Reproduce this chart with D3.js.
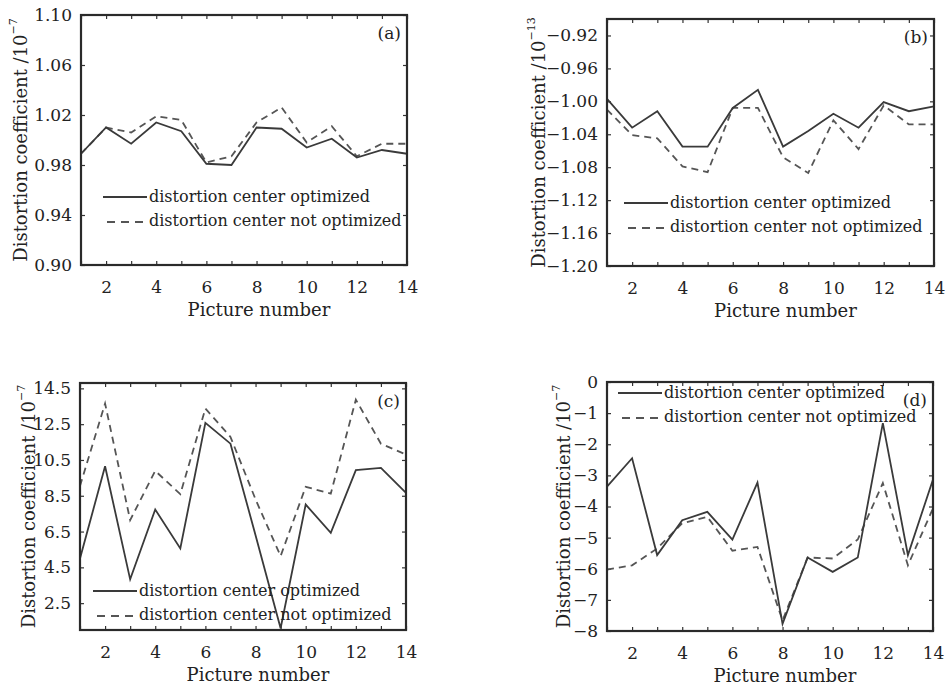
<!DOCTYPE html>
<html>
<head>
<meta charset="utf-8">
<script src="https://cdn.jsdelivr.net/npm/d3@7"></script>
<style>
  body { margin: 0; background: #fff; }
  svg text { font-family: "DejaVu Serif", "Liberation Serif", serif; }
  .tick text { font-size: 17px; fill: #222; }
  .tick line { stroke: #333; stroke-width: 1.2; }
  .domain { display: none; }
</style>
</head>
<body>
<div id="chart"></div>
<script>
// DATA
const pictureNumbers = [1, 2, 3, 4, 5, 6, 7, 8, 9, 10, 11, 12, 13, 14];
const xTickLabels = [2, 4, 6, 8, 10, 12, 14];
const seriesNames = ['distortion center optimized', 'distortion center not optimized'];

// (a)
const aOptimized = [0.989, 1.010, 0.997, 1.014, 1.007, 0.981, 0.980, 1.010, 1.009, 0.994, 1.001, 0.986, 0.992, 0.989];
const aNotOptimized = [0.989, 1.010, 1.006, 1.019, 1.016, 0.982, 0.987, 1.014, 1.026, 0.998, 1.011, 0.987, 0.997, 0.997];
const aTicks = [0.90, 0.94, 0.98, 1.02, 1.06, 1.10];
const aDomain = [0.90, 1.10];

// (b)
const bOptimized = [-0.997, -1.032, -1.012, -1.055, -1.055, -1.008, -0.986, -1.055, -1.036, -1.015, -1.032, -1.001, -1.012, -1.006];
const bNotOptimized = [-1.010, -1.041, -1.045, -1.079, -1.086, -1.008, -1.008, -1.068, -1.087, -1.023, -1.058, -1.005, -1.028, -1.028];
const bTicks = [-1.20, -1.16, -1.12, -1.08, -1.04, -1.00, -0.96, -0.92];
const bDomain = [-1.20, -0.90];

// (c)
const cOptimized = [5.0, 10.15, 3.83, 7.73, 5.56, 12.57, 11.41, 6.3, 1.1, 8.01, 6.43, 9.93, 10.06, 8.66];
const cNotOptimized = [9.05, 13.65, 7.14, 9.89, 8.59, 13.37, 11.79, 8.3, 5.13, 9.0, 8.62, 13.87, 11.41, 10.8];
const cTicks = [2.5, 4.5, 6.5, 8.5, 10.5, 12.5, 14.5];
const cDomain = [1, 14.8];

// (d)
const dOptimized = [-3.36, -2.45, -5.56, -4.44, -4.17, -5.06, -3.23, -7.77, -5.64, -6.10, -5.64, -1.32, -5.56, -3.13];
const dNotOptimized = [-6.03, -5.89, -5.35, -4.54, -4.33, -5.42, -5.30, -7.66, -5.64, -5.67, -5.06, -3.25, -5.89, -4.06];
const dTicks = [-8, -7, -6, -5, -4, -3, -2, -1, 0];
const dDomain = [-8, 0];

const serif = '"DejaVu Serif", "Liberation Serif", serif';

// panels : layout only
const panels = [
  {tag: '(a)', opt: aOptimized, notOpt: aNotOptimized, ticks: aTicks, domain: aDomain, fmt: '.2f', exp: '−7',
   left: 81, right: 407, top: 15, bottom: 265, ylabX: 27, legX: 103, legY: 197},
  {tag: '(b)', opt: bOptimized, notOpt: bNotOptimized, ticks: bTicks, domain: bDomain, fmt: '.2f', exp: '−13',
   left: 607, right: 934, top: 19, bottom: 266, ylabX: 545, legX: 624, legY: 203},
  {tag: '(c)', opt: cOptimized, notOpt: cNotOptimized, ticks: cTicks, domain: cDomain, fmt: '.1f', exp: '−7',
   left: 80, right: 406, top: 383, bottom: 630, ylabX: 35, legX: 93, legY: 591},
  {tag: '(d)', opt: dOptimized, notOpt: dNotOptimized, ticks: dTicks, domain: dDomain, fmt: 'd', exp: '−7',
   left: 607, right: 933, top: 382, bottom: 631, ylabX: 570, legX: 618, legY: 393}
];

const svg = d3.select('#chart').append('svg').attr('width', 952).attr('height', 687);

panels.forEach(function(p) {
  const g = svg.append('g');
  const x = d3.scaleLinear().domain([1, 14]).range([p.left, p.right]);
  const y = d3.scaleLinear().domain(p.domain).range([p.bottom, p.top]);

  // axes, ticks pointing inward
  g.append('g').attr('transform', 'translate(0,' + p.bottom + ')')
    .call(d3.axisBottom(x).tickValues(pictureNumbers).tickSize(-4).tickPadding(16)
      .tickFormat(d => xTickLabels.includes(d) ? d : ''));
  g.append('g').attr('transform', 'translate(0,' + p.top + ')')
    .call(d3.axisTop(x).tickValues(pictureNumbers).tickSize(-4).tickFormat(''));
  g.append('g').attr('transform', 'translate(' + p.left + ',0)')
    .call(d3.axisLeft(y).tickValues(p.ticks).tickSize(-4).tickPadding(9).tickFormat(d3.format(p.fmt)));
  g.append('g').attr('transform', 'translate(' + p.right + ',0)')
    .call(d3.axisRight(y).tickValues(p.ticks).tickSize(-4).tickFormat(''));
  g.selectAll('.tick text').attr('font-family', serif);

  // lines
  const line = d3.line().x((d, i) => x(pictureNumbers[i])).y(d => y(d));
  g.append('path').datum(p.notOpt).attr('d', line)
    .attr('fill', 'none').attr('stroke', '#555').attr('stroke-width', 1.8).attr('stroke-dasharray', '7,5');
  g.append('path').datum(p.opt).attr('d', line)
    .attr('fill', 'none').attr('stroke', '#3a3a3a').attr('stroke-width', 1.8);

  // box
  g.append('rect').attr('x', p.left).attr('y', p.top)
    .attr('width', p.right - p.left).attr('height', p.bottom - p.top)
    .attr('fill', 'none').attr('stroke', '#2a2a2a').attr('stroke-width', 2.2);

  // tag
  g.append('text').attr('x', p.right - 6).attr('y', p.top + 24)
    .attr('text-anchor', 'end').attr('font-size', 17).attr('fill', '#222').text(p.tag);

  // legend
  const leg = g.append('g');
  leg.append('line').attr('x1', p.legX).attr('x2', p.legX + 44).attr('y1', p.legY).attr('y2', p.legY)
    .attr('stroke', '#3a3a3a').attr('stroke-width', 2);
  leg.append('line').attr('x1', p.legX + 4).attr('x2', p.legX + 40).attr('y1', p.legY + 25).attr('y2', p.legY + 25)
    .attr('stroke', '#555').attr('stroke-width', 2).attr('stroke-dasharray', '8,6');
  seriesNames.forEach(function(name, i) {
    leg.append('text').attr('x', p.legX + 46).attr('y', p.legY + i * 24).attr('dy', '0.32em')
      .attr('font-size', 16).attr('fill', '#222').text(name);
  });

  // axis titles
  g.append('text').attr('x', (p.left + p.right) / 2 + 15).attr('y', p.bottom + 51)
    .attr('text-anchor', 'middle').attr('font-size', 18).attr('fill', '#222').text('Picture number');
  const yl = g.append('text')
    .attr('transform', 'translate(' + p.ylabX + ',' + ((p.top + p.bottom) / 2) + ') rotate(-90)')
    .attr('text-anchor', 'middle').attr('font-size', 18).attr('fill', '#222');
  yl.append('tspan').text('Distortion coefficient /10');
  yl.append('tspan').attr('font-size', 11).attr('dy', '-0.9em').text(p.exp);
});
</script>
</body>
</html>
